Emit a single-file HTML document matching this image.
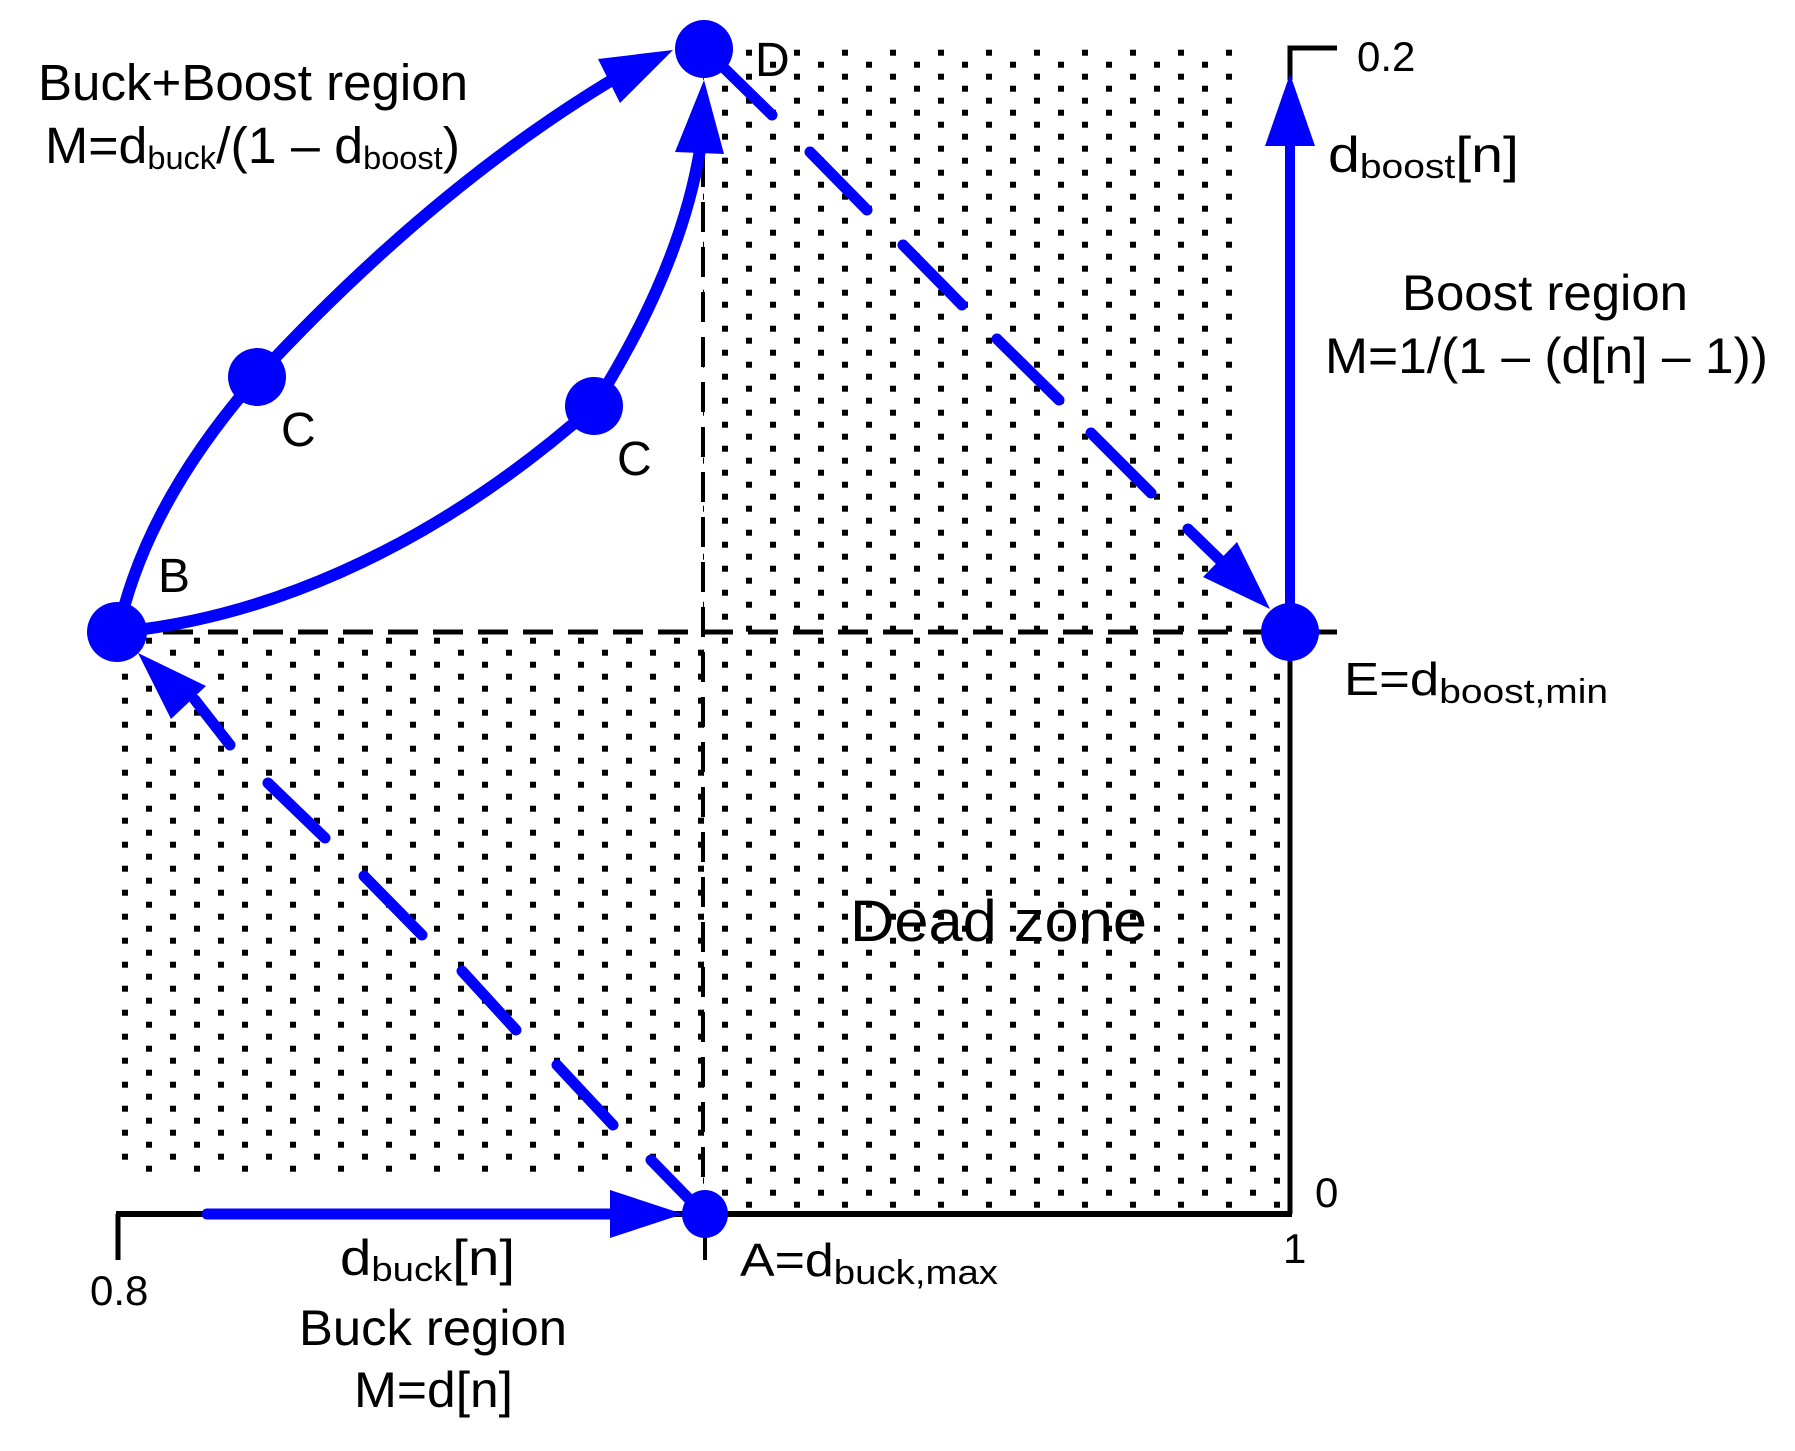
<!DOCTYPE html>
<html><head><meta charset="utf-8"><style>
html,body{margin:0;padding:0;background:#fff;}
svg{display:block;}
text{font-family:"Liberation Sans",sans-serif;fill:#000;}
</style></head><body>
<svg width="1795" height="1451" viewBox="0 0 1795 1451" xmlns="http://www.w3.org/2000/svg">
<defs>
<pattern id="dots" patternUnits="userSpaceOnUse" x="122" y="673.7" width="48" height="24">
<rect x="0" y="0" width="6" height="6" fill="#000"/>
<rect x="24" y="12" width="6" height="6" fill="#000"/>
</pattern>
</defs>
<rect width="1795" height="1451" fill="#fff"/>
<rect x="703" y="48" width="532" height="584" fill="url(#dots)"/>
<rect x="120" y="632" width="585" height="545" fill="url(#dots)"/>
<rect x="703" y="632" width="582" height="580" fill="url(#dots)"/>

<line x1="118" y1="632" x2="1290" y2="632" stroke="#000" stroke-width="5" stroke-dasharray="30,15"/>
<line x1="703" y1="157" x2="703" y2="1214" stroke="#000" stroke-width="4" stroke-dasharray="30,15"/>
<line x1="1290" y1="632" x2="1337" y2="632" stroke="#000" stroke-width="5"/>
<line x1="1290" y1="632" x2="1290" y2="1214" stroke="#000" stroke-width="5"/>
<line x1="116" y1="1214" x2="1292" y2="1214" stroke="#000" stroke-width="6"/>
<line x1="118" y1="1214" x2="118" y2="1260" stroke="#000" stroke-width="5"/>
<line x1="705" y1="1214" x2="705" y2="1260" stroke="#000" stroke-width="4"/>
<polyline points="1290,80 1290,48 1337,48" fill="none" stroke="#000" stroke-width="5"/>

<g fill="none" stroke="#0000ff" stroke-width="12" stroke-linecap="round">
<path d="M118,632 Q145,505 257,377 Q430,190 612,80"/>
<path d="M118,632 C250,620 420,560 594,406 Q680,270 700,150"/>
<line x1="1290" y1="632" x2="1290" y2="146" stroke-width="10"/>
<line x1="207" y1="1214" x2="615" y2="1214" stroke-width="11"/>
</g>
<g fill="#0000ff">
<polygon points="673,50 598,59 620,103"/>
<polygon points="704,80 675,152 724,154"/>
<polygon points="1290,74 1265,146 1315,146"/>
<polygon points="683,1214 610,1190 610,1238"/>
<polygon points="1270,609 1203,577 1237,542"/>
<polygon points="138,653 206,686 171,719"/>
</g>
<g stroke="#0000ff" stroke-width="11" stroke-linecap="round">
<line x1="723" y1="67" x2="772" y2="115"/>
<line x1="810" y1="152" x2="867" y2="210"/>
<line x1="903" y1="245" x2="962" y2="305"/>
<line x1="997" y1="339" x2="1059" y2="400"/>
<line x1="1091" y1="433" x2="1151" y2="493"/>
<line x1="1188" y1="529" x2="1225" y2="565"/>
<line x1="195" y1="700" x2="230" y2="745"/>
<line x1="268" y1="783" x2="325" y2="838"/>
<line x1="364" y1="876" x2="422" y2="935"/>
<line x1="462" y1="971" x2="516" y2="1030"/>
<line x1="557" y1="1065" x2="613" y2="1125"/>
<line x1="651" y1="1160" x2="690" y2="1200"/>
</g>
<g fill="#0000ff">
<circle cx="704" cy="49" r="29"/>
<circle cx="117" cy="632" r="30"/>
<circle cx="257" cy="377" r="29"/>
<circle cx="594" cy="406" r="29"/>
<circle cx="1290" cy="632" r="29"/>
<ellipse cx="705" cy="1214" rx="23" ry="24"/>
</g>

<text x="38" y="100" font-size="51" textLength="430" lengthAdjust="spacingAndGlyphs">Buck+Boost region</text>
<text x="45" y="163" font-size="51" textLength="415" lengthAdjust="spacingAndGlyphs">M=d<tspan font-size="32" dy="6">buck</tspan><tspan dy="-6">/(1 – d</tspan><tspan font-size="32" dy="6">boost</tspan><tspan dy="-6">)</tspan></text>
<text x="755" y="76" font-size="48">D</text>
<text x="158" y="592" font-size="48">B</text>
<text x="281" y="446" font-size="48">C</text>
<text x="617" y="475" font-size="48">C</text>
<text x="1357" y="71" font-size="42">0.2</text>
<text x="1328" y="172" font-size="50" textLength="191" lengthAdjust="spacingAndGlyphs">d<tspan font-size="34" dy="6">boost</tspan><tspan dy="-6">[n]</tspan></text>
<text x="1402" y="310" font-size="50" textLength="286" lengthAdjust="spacingAndGlyphs">Boost region</text>
<text x="1325" y="373" font-size="50" textLength="443" lengthAdjust="spacingAndGlyphs">M=1/(1 – (d[n] – 1))</text>
<text x="1344" y="695" font-size="46" textLength="264" lengthAdjust="spacingAndGlyphs">E=d<tspan font-size="34" dy="8">boost,min</tspan></text>
<text x="850" y="941" font-size="58" textLength="297" lengthAdjust="spacingAndGlyphs">Dead zone</text>
<text x="1315" y="1207" font-size="42">0</text>
<text x="1283" y="1263" font-size="42">1</text>
<text x="740" y="1276" font-size="46" textLength="258" lengthAdjust="spacingAndGlyphs">A=d<tspan font-size="34" dy="8">buck,max</tspan></text>
<text x="90" y="1305" font-size="42">0.8</text>
<text x="340" y="1275" font-size="50" textLength="175" lengthAdjust="spacingAndGlyphs">d<tspan font-size="34" dy="6">buck</tspan><tspan dy="-6">[n]</tspan></text>
<text x="299" y="1345" font-size="50" textLength="268" lengthAdjust="spacingAndGlyphs">Buck region</text>
<text x="354" y="1407" font-size="50" textLength="159" lengthAdjust="spacingAndGlyphs">M=d[n]</text>
</svg>
</body></html>
